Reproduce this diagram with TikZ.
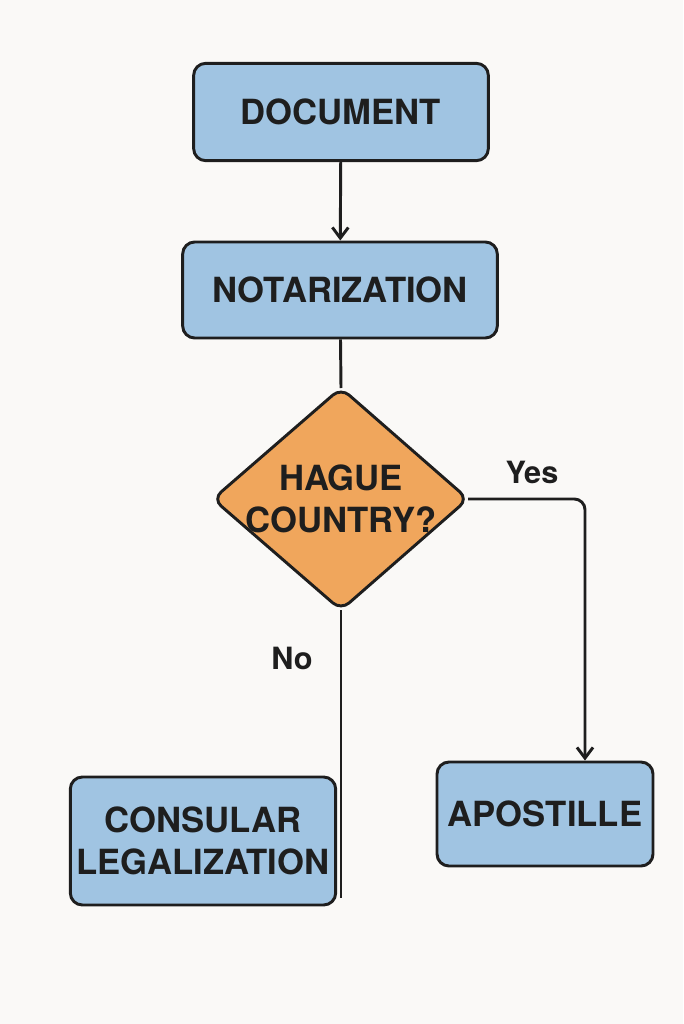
\documentclass[tikz,border=0pt]{standalone}
\usepackage{fontspec}
\setmainfont{TeX Gyre Heros}
\usetikzlibrary{shapes.geometric,arrows.meta}
\definecolor{bgcol}{RGB}{250,249,247}
\definecolor{boxblue}{RGB}{160,196,226}
\definecolor{decor}{RGB}{240,166,92}
\definecolor{inkcol}{RGB}{30,30,30}
\tikzset{
  stepbox/.style={draw=inkcol,line width=2.2pt,fill=boxblue,rounded corners=9pt,align=center,
    font=\fontsize{26}{31}\selectfont\bfseries,text=inkcol,inner sep=0pt},
  decide/.style={draw=inkcol,line width=2.2pt,fill=decor,diamond,rounded corners=9pt,align=center,
    font=\fontsize{26}{31}\selectfont\bfseries,text=inkcol,inner sep=0pt},
  link/.style={draw=inkcol,line width=2.2pt},
  tag/.style={font=\fontsize{23}{27}\selectfont\bfseries,text=inkcol}
}
\begin{document}
\begin{tikzpicture}[x=0.75pt,y=0.75pt,yscale=-1,xscale=1]
        \fill [bgcol] (0,0) rectangle (683,1024);
        \useasboundingbox (0,0) rectangle (683,1024);

        % Boxes
        \node [stepbox,minimum width=221pt,minimum height=73pt] (doc) at (341,112) {DOCUMENT};
        \node [stepbox,minimum width=236pt,minimum height=72pt] (nota) at (340,290) {NOTARIZATION};
        \node [draw=inkcol,line width=2.2pt,fill=decor,rounded corners=6pt,
               shape=diamond,minimum width=0pt,inner sep=0pt] (hague) at (341,499) {};
        \path [draw=inkcol,line width=2.2pt,fill=decor,rounded corners=8pt]
              (341,388) -- (468,499) -- (341,610) -- (213,499) -- cycle;
        \node [font=\fontsize{26}{31}\selectfont\bfseries,text=inkcol,align=center] (hq) at (341,499) {HAGUE\\COUNTRY?};
        \node [stepbox,minimum width=199pt,minimum height=96pt] (cons) at (203,841) {CONSULAR\\LEGALIZATION};
        \node [stepbox,minimum width=162pt,minimum height=78pt] (apo) at (545,814) {APOSTILLE};

        % Connectors
        \coordinate (htop) at (341,388);
        \coordinate (hright) at (468,499);
        \coordinate (hbot) at (341,610);
        \coordinate (noend) at (341,898);
        \draw [link,-{Straight Barb[length=8pt,width=12pt]}] (doc) -- (nota);
        \draw [link] (nota) -- (htop);
        \draw [link,rounded corners=8pt,-{Straight Barb[length=8pt,width=12pt]}] (hright) -| (apo.north -| 585,0);
        \draw [link] (hbot) -- (noend);

        % Labels
        \node [tag] (yes) at (532,472) {Yes};
        \node [tag] (no) at (292,658) {No};
\end{tikzpicture}
\end{document}
